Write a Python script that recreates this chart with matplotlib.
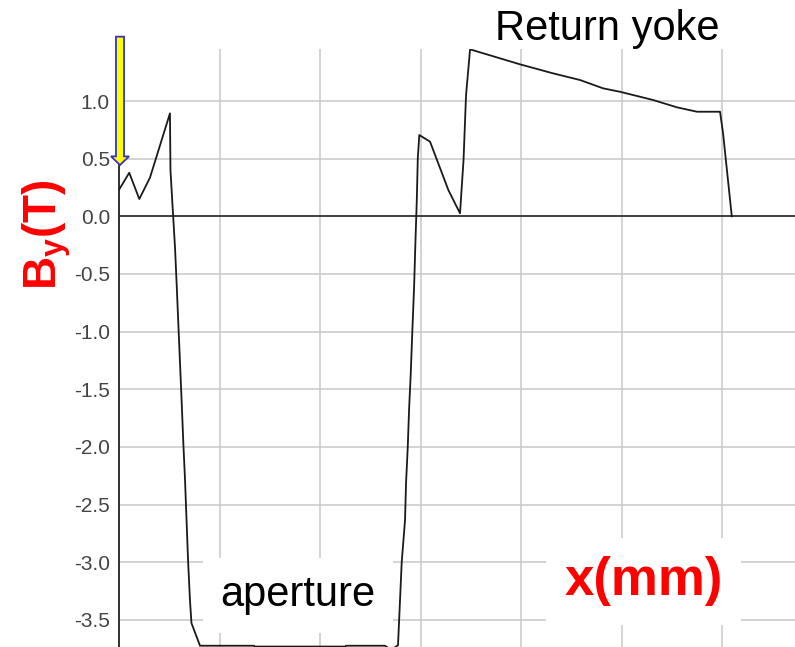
import matplotlib
matplotlib.use("Agg")
import matplotlib.pyplot as plt
from matplotlib.patches import FancyArrow

plt.rcParams['font.family'] = ['Liberation Sans', 'DejaVu Sans']
plt.rcParams['mathtext.fontset'] = 'custom'
plt.rcParams['mathtext.rm'] = 'Liberation Sans'
plt.rcParams['mathtext.bf'] = 'Liberation Sans:bold'

# --- field profile along x ---
x_mm = [0.0, 1.02, 2.02, 3.08, 5.07, 5.12, 5.34, 5.57, 5.74, 5.90, 6.07, 6.24,
        6.40, 6.57, 6.72, 6.87, 7.06, 7.21, 8.06, 8.56, 13.43, 13.53, 22.49,
        22.59, 26.47, 27.06, 27.76, 28.13, 28.46, 28.56, 28.73, 28.86, 29.03,
        29.19, 29.36, 29.49, 29.63, 29.73, 29.88, 30.95, 32.77, 33.93, 34.28,
        34.53, 34.93, 39.90, 43.18, 45.87, 48.16, 49.85, 53.13, 55.52, 57.51,
        59.80, 60.10, 60.97]
by_t = [0.23, 0.378, 0.150, 0.335, 0.893, 0.402, 0.072, -0.266, -0.595, -0.925,
        -1.272, -1.619, -1.966, -2.287, -2.634, -2.981, -3.328, -3.528, -3.724,
        -3.724, -3.724, -3.731, -3.731, -3.724, -3.724, -3.76, -3.72, -2.998,
        -2.634, -2.313, -2.001, -1.680, -1.359, -0.986, -0.614, -0.232, 0.141,
        0.505, 0.705, 0.647, 0.228, 0.026, 0.488, 1.052, 1.448, 1.318, 1.240,
        1.182, 1.110, 1.080, 1.009, 0.945, 0.907, 0.907, 0.722, 0.0]

y_ticks = [1.0, 0.5, 0.0, -0.5, -1.0, -1.5, -2.0, -2.5, -3.0, -3.5]
x_grid = [0, 10, 20, 30, 40, 50, 60]

# arrow marking the start point
arrow_x = 0.1
arrow_top = 1.558
arrow_tip = 0.445

fig = plt.figure(figsize=(7.95, 6.47), dpi=100)
ax = fig.add_axes([119 / 795, 0.0, 1 - 119 / 795, 598 / 647])

ax.set_xlim(0, 67.26)
ax.set_ylim(-3.735, 1.451)
ax.set_xticks(x_grid)
ax.set_yticks(y_ticks)
ax.set_yticklabels([f"{v:.1f}" for v in y_ticks])
ax.tick_params(axis='x', length=0, labelbottom=False)
ax.tick_params(axis='y', length=0, pad=6.5, labelsize=15, labelcolor='#444444')
ax.grid(True, color='#c8c8c8', linewidth=1.1)
ax.set_axisbelow(True)

for side in ['top', 'right', 'bottom']:
    ax.spines[side].set_visible(False)
ax.spines['left'].set_color('#222222')
ax.spines['left'].set_linewidth(1.3)

ax.axhline(0, color='#333333', linewidth=1.3, zorder=1.8)
ax.plot(x_mm, by_t, color='#1a1a1a', linewidth=1.3, zorder=3)

ax.add_patch(FancyArrow(arrow_x, arrow_top, 0, arrow_tip - arrow_top,
                        width=0.8, head_width=1.8, head_length=0.075,
                        length_includes_head=True, facecolor='#ffff00',
                        edgecolor='#3333cc', linewidth=1.3, clip_on=False,
                        zorder=5))

# labels inside the plot
ax.text(17.8, -3.285, 'aperture', fontsize=30, ha='center', va='center',
        zorder=2.5, bbox=dict(boxstyle='square,pad=0.42', fc='white', ec='none'))
ax.text(52.2, -3.163, 'x(mm)', fontsize=38, fontweight='bold', color='#ff0000',
        ha='center', va='center', zorder=2.5,
        bbox=dict(boxstyle='square,pad=0.35', fc='white', ec='none'))

fig.text(607 / 795, 1 - 40 / 647, 'Return yoke', fontsize=30, ha='center',
         va='baseline')
fig.text(47 / 795, 1 - 235 / 647, r'$\mathbf{B_y(T)}$', fontsize=33,
         color='#ff0000', rotation=90, ha='center', va='center')

fig.savefig('out.png', dpi=100)
